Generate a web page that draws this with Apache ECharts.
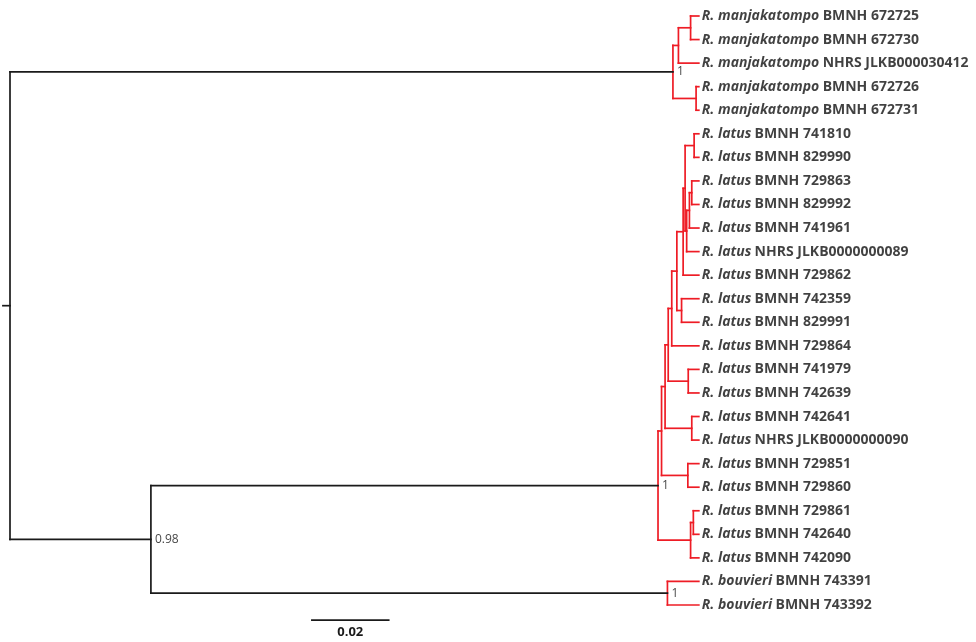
<!DOCTYPE html>
<html>
<head>
<meta charset="utf-8">
<script src="https://cdn.jsdelivr.net/npm/echarts@6/dist/echarts.min.js"></script>
<style>
  html, body { margin: 0; padding: 0; background: #fff; }
  #main { width: 976px; height: 642px; }
</style>
</head>
<body>
<div id="main"></div>
<script>
// tips, top to bottom
var tipSpecies = [
    'R. manjakatompo', 'R. manjakatompo', 'R. manjakatompo', 'R. manjakatompo', 'R. manjakatompo',
    'R. latus', 'R. latus', 'R. latus', 'R. latus', 'R. latus', 'R. latus', 'R. latus',
    'R. latus', 'R. latus', 'R. latus', 'R. latus', 'R. latus', 'R. latus', 'R. latus',
    'R. latus', 'R. latus', 'R. latus', 'R. latus', 'R. latus',
    'R. bouvieri', 'R. bouvieri'
];
var tipSpecimens = [
    'BMNH 672725', 'BMNH 672730', 'NHRS JLKB000030412', 'BMNH 672726', 'BMNH 672731',
    'BMNH 741810', 'BMNH 829990', 'BMNH 729863', 'BMNH 829992', 'BMNH 741961',
    'NHRS JLKB0000000089', 'BMNH 729862', 'BMNH 742359', 'BMNH 829991', 'BMNH 729864',
    'BMNH 741979', 'BMNH 742639', 'BMNH 742641', 'NHRS JLKB0000000090', 'BMNH 729851',
    'BMNH 729860', 'BMNH 729861', 'BMNH 742640', 'BMNH 742090',
    'BMNH 743391', 'BMNH 743392'
];
// distance of every tip from the root (ultrametric tree)
var tipDepth = 0.1755;

// internal nodes: [name, distance from root, children (node names or tip index), support]
var nodes = [
    ['root', 0.0000, ['nM', 'nB'], ''],
    ['nM', 0.1689, ['nM1', 'nM2'], '1'],
    ['nM1', 0.1703, ['nM11', 2], ''],
    ['nM11', 0.1734, [0, 1], ''],
    ['nM2', 0.1748, [3, 4], ''],
    ['nB', 0.0359, ['nL', 'nBv'], '0.98'],
    ['nL', 0.1651, ['nH', 'nC3'], '1'],
    ['nH', 0.1660, ['nG', 'nC2'], ''],
    ['nG', 0.1669, ['nF', 'nC4'], ''],
    ['nF', 0.1677, ['nE', 'nC1'], ''],
    ['nE', 0.1686, ['nD', 14], ''],
    ['nD', 0.1699, ['nABC', 'nC0'], ''],
    ['nABC', 0.1715, ['nAB', 11], ''],
    ['nAB', 0.1720, ['nA', 'nBB'], ''],
    ['nA', 0.1743, [5, 6], ''],
    ['nBB', 0.1724, ['nBB1', 10], ''],
    ['nBB1', 0.1731, ['nBB2', 9], ''],
    ['nBB2', 0.1737, [7, 8], ''],
    ['nC0', 0.1711, [12, 13], ''],
    ['nC1', 0.1728, [15, 16], ''],
    ['nC4', 0.1737, [17, 18], ''],
    ['nC2', 0.1727, [19, 20], ''],
    ['nC3', 0.1734, ['nC3a', 23], ''],
    ['nC3a', 0.1741, [21, 22], ''],
    ['nBv', 0.1675, [24, 25], '1']
];
// crown nodes of the species clades, drawn in red
var redClades = ['nM', 'nL', 'nBv'];
var rootBranch = 0.0018;
var scaleBarLength = 0.02;

var RED = '#ee1c25';
var BLACK = '#1a1a1a';

// --- lay out the tree ---
var byName = {};
nodes.forEach(function(n) { byName[n[0]] = n; });

var segments = [];   // [x1, y1, x2, y2, red]
var supports = [];   // [x, y, text]

function layout(ref, parentDepth, red) {
    if (typeof ref === 'number') {
        segments.push([parentDepth, ref, tipDepth, ref, red]);
        return ref;
    }
    var n = byName[ref];
    var inRed = red || redClades.indexOf(ref) >= 0;
    var ys = n[2].map(function(c) { return layout(c, n[1], inRed); });
    var y0 = Math.min.apply(null, ys), y1 = Math.max.apply(null, ys);
    var y = (y0 + y1) / 2;
    segments.push([n[1], y0, n[1], y1, inRed ? 1 : 0]);
    if (parentDepth !== null) {
        segments.push([parentDepth, y, n[1], y, red ? 1 : 0]);
    } else {
        segments.push([n[1] - rootBranch, y, n[1], y, 0]);
    }
    if (n[3]) supports.push([n[1], y, n[3]]);
    return y;
}
layout('root', null, false);

var tipData = tipSpecies.map(function(s, i) {
    return [tipDepth, i, s, tipSpecimens[i]];
});

var option = {
    animation: false,
    grid: { left: 2.15, top: 16, width: 942, height: 589 },
    xAxis: { type: 'value', min: -0.002, max: 0.238, show: false },
    yAxis: { type: 'value', min: 0, max: 25, inverse: true, show: false },
    series: [{
        type: 'custom',
        clip: false,
        silent: true,
        data: segments,
        encode: { x: [0, 2], y: [1, 3] },
        renderItem: function(params, api) {
            var p1 = api.coord([api.value(0), api.value(1)]);
            var p2 = api.coord([api.value(2), api.value(3)]);
            return {
                type: 'line',
                shape: { x1: p1[0], y1: p1[1], x2: p2[0], y2: p2[1] },
                style: { stroke: api.value(4) ? RED : BLACK, lineWidth: 1.7, lineCap: 'square' }
            };
        }
    }, {
        type: 'scatter',
        silent: true,
        symbolSize: 0,
        data: tipData,
        label: {
            show: true,
            position: 'right',
            distance: 3,
            color: '#111',
            formatter: function(p) {
                return '{sp|' + p.data[2] + '} {id|' + p.data[3] + '}';
            },
            rich: {
                sp: { fontFamily: 'Open Sans', fontSize: 14, fontStyle: 'italic', fontWeight: 'bold', color: '#111' },
                id: { fontFamily: 'Open Sans', fontSize: 14, fontWeight: 'bold', color: '#111' }
            }
        }
    }, {
        type: 'scatter',
        silent: true,
        symbolSize: 0,
        data: supports,
        label: {
            show: true,
            position: 'right',
            distance: 4,
            fontFamily: 'Open Sans',
            fontSize: 12,
            color: '#111',
            formatter: function(p) { return p.data[2]; }
        }
    }, {
        type: 'custom',
        clip: false,
        silent: true,
        data: [[0.0767, 25.64]],
        renderItem: function(params, api) {
            var a = api.coord([api.value(0), api.value(1)]);
            var b = api.coord([api.value(0) + scaleBarLength, api.value(1)]);
            return {
                type: 'group',
                children: [{
                    type: 'line',
                    shape: { x1: a[0], y1: a[1], x2: b[0], y2: b[1] },
                    style: { stroke: BLACK, lineWidth: 1.7 }
                }, {
                    type: 'text',
                    style: {
                        x: (a[0] + b[0]) / 2, y: a[1] + 6,
                        text: String(scaleBarLength),
                        textAlign: 'center', textVerticalAlign: 'top',
                        fontFamily: 'Open Sans', fontSize: 13, fontWeight: 'bold', fill: BLACK
                    }
                }]
            };
        }
    }]
};

var myChart = echarts.init(document.getElementById('main'));
myChart.setOption(option);
</script>
</body>
</html>
